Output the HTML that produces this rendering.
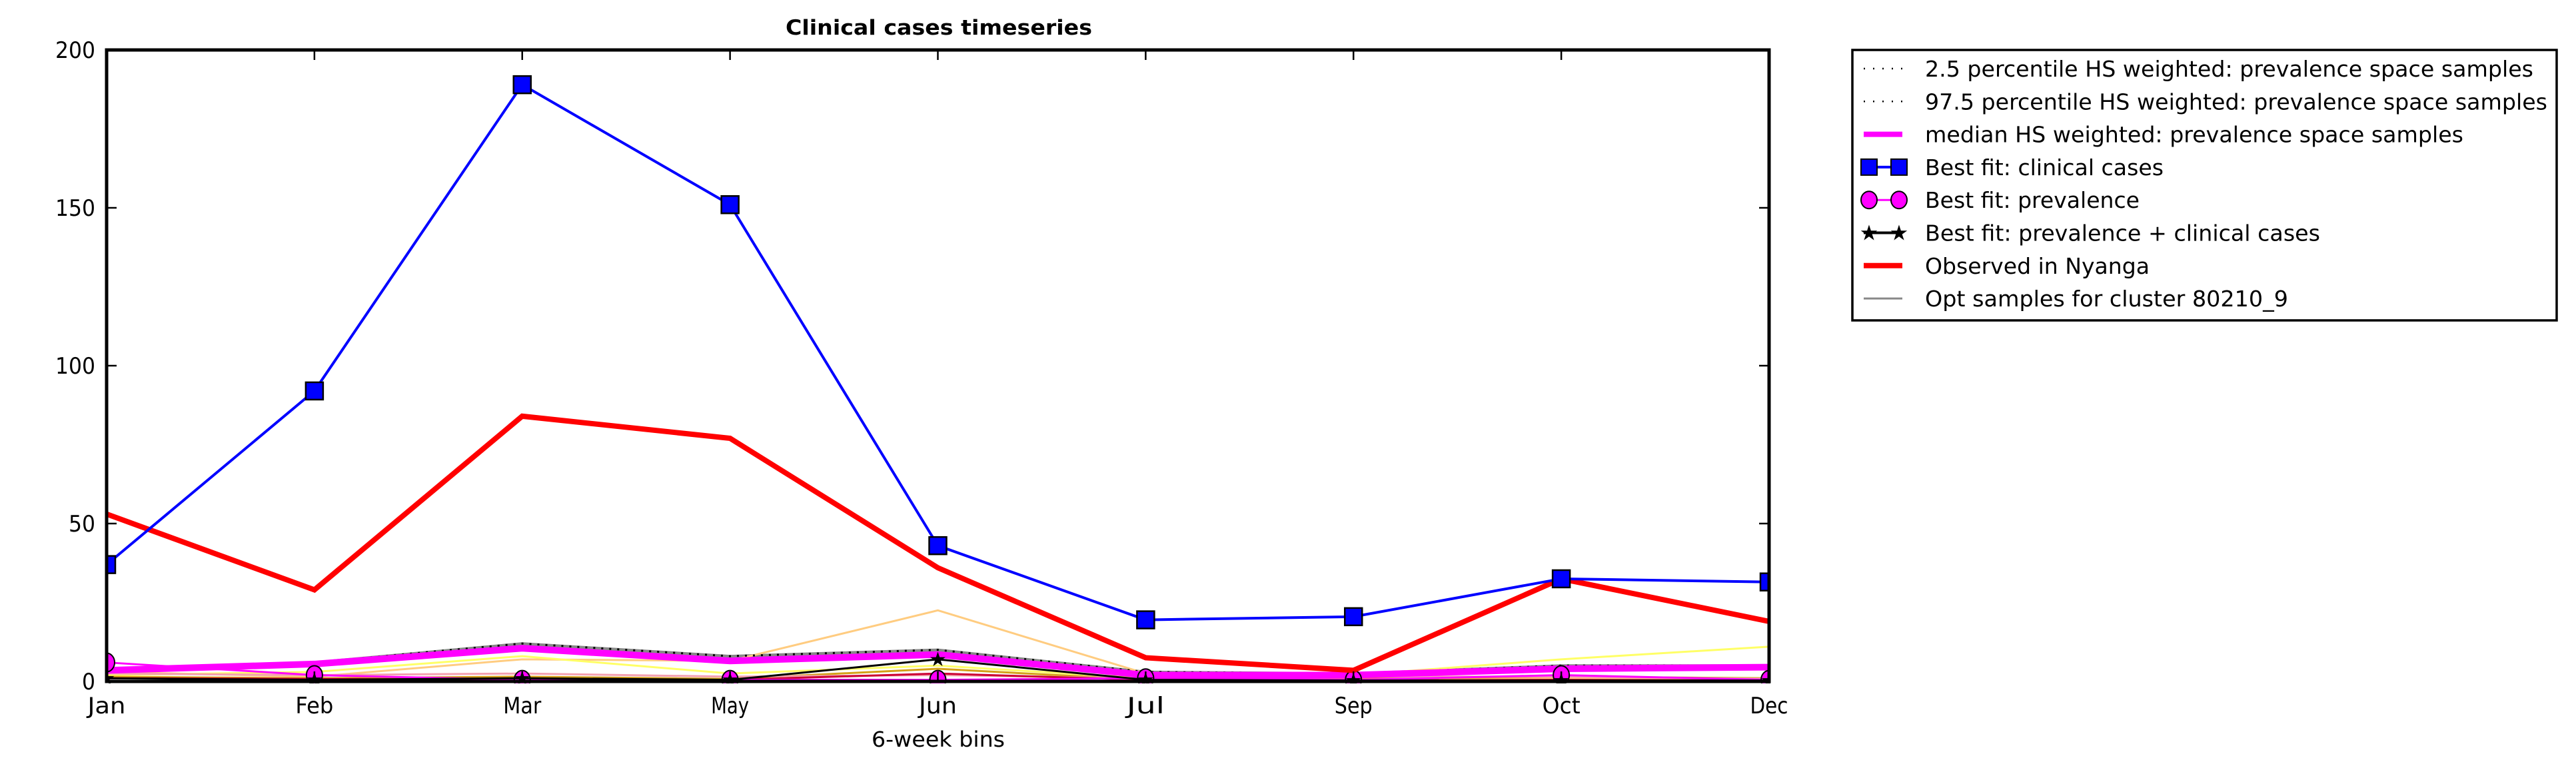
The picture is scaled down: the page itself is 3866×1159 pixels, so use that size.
<!DOCTYPE html>
<html><head><meta charset="utf-8">
<style>
html,body{margin:0;padding:0;background:#fff;}
svg{display:block;font-family:"DejaVu Sans","Liberation Sans",sans-serif;}
</style></head>
<body>
<svg id="chart" width="3866" height="1159" viewBox="0 0 3866 1159" xmlns="http://www.w3.org/2000/svg">
<rect x="0" y="0" width="3866" height="1159" fill="#fff"/>
<text x="1409" y="52" font-size="31" font-weight="bold" text-anchor="middle" textLength="460" lengthAdjust="spacingAndGlyphs">Clinical cases timeseries</text>
<text x="1408" y="1121" font-size="32" text-anchor="middle" textLength="200" lengthAdjust="spacingAndGlyphs">6-week bins</text>
<text x="0" y="0" font-size="32" text-anchor="middle" textLength="222" lengthAdjust="spacingAndGlyphs" transform="translate(56,551) rotate(-90)">Clinical cases</text>
<g id="plot"></g>
<g id="axes"></g>
<g id="legend"></g>
</svg>
<script>
const categories = ["Jan","Feb","Mar","May","Jun","Jul","Sep","Oct","Dec"];
const yTicks = [0,50,100,150,200];
const bestFitClinical = [37,92,189,151,43,19.5,20.5,32.5,31.5];
const observed = [53,29,84,77,36,7.5,3.5,32.5,19];
const medianHS = [3.5,5.5,10.5,6.5,8.5,2,2,4,4.5];
const p975 = [4,6,12,8,10,3,2.5,5,5];
const p25 = [3,5,10,6.5,8,2,1.5,3.5,4];
const bestFitPrev = [6,2,0.5,0.5,0.5,1,0.5,2,0.5];
const bestFitBoth = [1,0.5,1,0.5,7,0.5,0.3,0.3,0.3];
const sampleOrange = [3,1.5,7,6.5,22.5,2.5,1,1,1];
const sampleYellow = [2,3,8,2.5,5,1,2,7,11];
const sampleGold = [1.5,1,1.5,0.8,4,0.5,0.8,1.5,1];
const samplePink = [2.5,2,2.5,1.5,2,1,1.5,1.5,0.8];
const sampleRed = [1,0.8,0.5,0.5,2.5,0.5,0.3,0.5,0.3];
const sampleGrey = [4,5.5,11,7,9,2.5,2,4.5,4.8];

const L=160,R=2655,T=75,B=1023;
const NS="http://www.w3.org/2000/svg";
const xs=i=>L+(R-L)*i/(categories.length-1);
const ys=v=>B-(B-T)*v/200;
function mk(tag,attrs,parent){const e=document.createElementNS(NS,tag);for(const k in attrs)e.setAttribute(k,attrs[k]);parent.appendChild(e);return e;}
const plot=document.getElementById('plot'),axes=document.getElementById('axes'),leg=document.getElementById('legend');
function pts(arr){return arr.map((v,i)=>xs(i)+','+ys(v)).join(' ');}
function line(arr,color,w,name,extra){const e=mk('polyline',Object.assign({points:pts(arr),fill:'none',stroke:color,'stroke-width':w,'stroke-linejoin':'miter'},extra||{}),plot);


return e;}
const band=mk('polygon',{points:pts(p975)+' '+p25.map((v,i)=>xs(i)+','+ys(v)).reverse().join(' '),fill:'#888',stroke:'#888','stroke-width':4},plot);


line(sampleGrey,'#888',3,'opt-sample-grey');
line(sampleOrange,'#ffcc80',3,'opt-sample-orange');
line(sampleYellow,'#ffff66',3,'opt-sample-yellow');
line(sampleGold,'#d4a017',3,'opt-sample-gold');
line(samplePink,'#f4a0b0',3,'opt-sample-pink');
line(sampleRed,'#cc0033',3,'opt-sample-red');
line(p975,'#000',3,'percentile-97-5-line',{'stroke-dasharray':'3,9'});
line(p25,'#000',3,'percentile-2-5-line',{'stroke-dasharray':'3,9'});
line(medianHS,'#ff00ff',10,'median-hs-line');
line(bestFitPrev,'#ff00ff',3,'best-fit-prevalence-line');
bestFitPrev.forEach((v,i)=>{const c=mk('ellipse',{cx:xs(i),cy:ys(v),rx:12,ry:14,fill:'#ff00ff',stroke:'#000','stroke-width':2},plot);

});
line(bestFitBoth,'#000',3,'best-fit-both-line');
bestFitBoth.forEach((v,i)=>{const s=mk('text',{x:xs(i),y:ys(v)+10,'font-size':30,'text-anchor':'middle',fill:'#000'},plot);s.textContent='★';

});
line(observed,'#ff0000',8,'observed-line');
line(bestFitClinical,'#0000ff',4,'best-fit-clinical-line');
bestFitClinical.forEach((v,i)=>{const r=mk('rect',{x:xs(i)-13,y:ys(v)-13,width:26,height:26,fill:'#0000ff',stroke:'#000','stroke-width':2.5},plot);

});
mk('rect',{x:0,y:0,width:L-2,height:1159,fill:'#fff'},plot);
mk('rect',{x:R+2,y:0,width:100,height:1159,fill:'#fff'},plot);
mk('rect',{x:L-20,y:B+3,width:R-L+40,height:30,fill:'#fff'},plot);
const fr=mk('rect',{x:L,y:T,width:R-L,height:B-T,fill:'none',stroke:'#000','stroke-width':5},axes);


categories.forEach((c,i)=>{const x=xs(i);
mk('line',{x1:x,y1:B,x2:x,y2:B-15,stroke:'#000','stroke-width':2.5},axes);
mk('line',{x1:x,y1:T,x2:x,y2:T+15,stroke:'#000','stroke-width':2.5},axes);
const t=mk('text',{x:x,y:1071,'font-size':34,'text-anchor':'middle',textLength:c.length*19,lengthAdjust:'spacingAndGlyphs'},axes);t.textContent=c;

});
yTicks.forEach(v=>{const y=ys(v);
mk('line',{x1:L,y1:y,x2:L+15,y2:y,stroke:'#000','stroke-width':2.5},axes);
mk('line',{x1:R,y1:y,x2:R-15,y2:y,stroke:'#000','stroke-width':2.5},axes);
const s=String(v);const t=mk('text',{x:143,y:y+12,'font-size':34,'text-anchor':'end',textLength:s.length*20,lengthAdjust:'spacingAndGlyphs'},axes);t.textContent=s;

});
const lb=mk('rect',{x:2780,y:75,width:1057,height:406,fill:'#fff',stroke:'#000','stroke-width':3.5},leg);


const entries=[
["2.5 percentile HS weighted: prevalence space samples","dot",913],
["97.5 percentile HS weighted: prevalence space samples","dot",934],
["median HS weighted: prevalence space samples","mag",808],
["Best fit: clinical cases","sq",358],
["Best fit: prevalence","circ",322],
["Best fit: prevalence + clinical cases","star",593],
["Observed in Nyanga","red",337],
["Opt samples for cluster 80210_9","grey",545]];
entries.forEach((e,k)=>{const y=103+k*49.3;
const g=mk('g',{},leg);


const x1=2797,x2=2855;
if(e[1]==='dot')mk('line',{x1:x1,y1:y,x2:x2,y2:y,stroke:'#000','stroke-width':2.5,'stroke-dasharray':'2,12'},g);
if(e[1]==='mag')mk('line',{x1:x1,y1:y,x2:x2,y2:y,stroke:'#ff00ff','stroke-width':8},g);
if(e[1]==='red')mk('line',{x1:x1,y1:y,x2:x2,y2:y,stroke:'#ff0000','stroke-width':8},g);
if(e[1]==='grey')mk('line',{x1:x1,y1:y,x2:x2,y2:y,stroke:'#888','stroke-width':3},g);
if(e[1]==='sq'){mk('line',{x1:x1,y1:y,x2:x2,y2:y,stroke:'#0000ff','stroke-width':4},g);
[2805,2850].forEach(cx=>mk('rect',{x:cx-12,y:y-12,width:24,height:24,fill:'#0000ff',stroke:'#000','stroke-width':2},g));}
if(e[1]==='circ'){mk('line',{x1:x1,y1:y,x2:x2,y2:y,stroke:'#ff00ff','stroke-width':3},g);
[2805,2850].forEach(cx=>mk('ellipse',{cx:cx,cy:y,rx:12,ry:13,fill:'#ff00ff',stroke:'#000','stroke-width':2},g));}
if(e[1]==='star'){mk('line',{x1:x1,y1:y,x2:x2,y2:y,stroke:'#000','stroke-width':4},g);
[2805,2850].forEach(cx=>{const s=mk('text',{x:cx,y:y+11,'font-size':32,'text-anchor':'middle'},g);s.textContent='★';});}
const t=mk('text',{x:2889,y:y+12,'font-size':33,textLength:e[2],lengthAdjust:'spacingAndGlyphs'},g);t.textContent=e[0];
});
</script>
</body></html>
